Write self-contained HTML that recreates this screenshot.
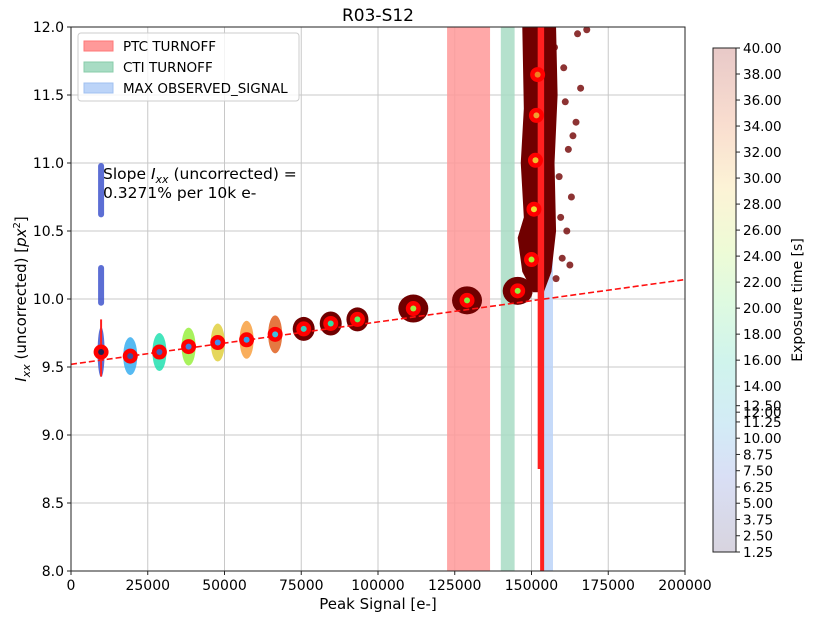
<!DOCTYPE html>
<html><head><meta charset="utf-8"><style>
body{margin:0;background:#fff}
svg{display:block;font-family:"DejaVu Sans","Liberation Sans",sans-serif}
</style></head><body>
<svg id="chart" width="814" height="617" viewBox="0 0 814 617" xmlns="http://www.w3.org/2000/svg">
<defs>
<linearGradient id="cbgrad" x1="0" y1="1" x2="0" y2="0">
<stop offset="0" stop-color="#d8d4df"/>
<stop offset="0.15" stop-color="#d9dff5"/>
<stop offset="0.25" stop-color="#d3ebf6"/>
<stop offset="0.38" stop-color="#d0f4ec"/>
<stop offset="0.5" stop-color="#dffae0"/>
<stop offset="0.6" stop-color="#eefbd6"/>
<stop offset="0.72" stop-color="#fcf3d6"/>
<stop offset="0.85" stop-color="#f9ddcf"/>
<stop offset="1" stop-color="#e8c9c8"/>
</linearGradient>
<clipPath id="plotclip"><rect x="71" y="27" width="614" height="544"/></clipPath>
</defs>
<g id="grid"></g>
<g id="spans" clip-path="url(#plotclip)"></g>
<g id="clouds" clip-path="url(#plotclip)"></g>
<g id="fit" clip-path="url(#plotclip)"></g>
<g id="marks" clip-path="url(#plotclip)"></g>
<rect x="71" y="27" width="614" height="544" fill="none" stroke="#222" stroke-width="1"/>
<g id="axes"></g>
<text x="378" y="21" font-size="17" text-anchor="middle">R03-S12</text>
<text x="378" y="609" font-size="15" text-anchor="middle">Peak Signal [e-]</text>
<text transform="translate(26,299) rotate(-90)" font-size="15" text-anchor="middle"><tspan font-style="italic">I</tspan><tspan font-style="italic" font-size="11" dy="4">xx</tspan><tspan dy="-4"> (uncorrected) [</tspan><tspan font-style="italic">px</tspan><tspan font-size="10" dy="-6">2</tspan><tspan dy="6">]</tspan></text>
<text font-size="15.5" x="103" y="179">Slope <tspan font-style="italic">I</tspan><tspan font-style="italic" font-size="11" dy="4">xx</tspan><tspan dy="-4"> (uncorrected) =</tspan><tspan x="103" dy="19">0.3271% per 10k e-</tspan></text>
<g>
<rect x="78" y="33" width="221" height="68" rx="3" fill="#fff" fill-opacity="0.8" stroke="#ccc"/>
<rect x="84" y="41" width="29" height="10" fill="#ff9999" stroke="#ff7777"/>
<text x="123" y="51" font-size="13.5">PTC TURNOFF</text>
<rect x="84" y="62" width="29" height="10" fill="#a8dcc4" stroke="#88ccaa"/>
<text x="123" y="72" font-size="13.5">CTI TURNOFF</text>
<rect x="84" y="83" width="29" height="10" fill="#bcd4f8" stroke="#a0c0f0"/>
<text x="123" y="93" font-size="13.5">MAX OBSERVED_SIGNAL</text>
</g>
<g id="colorbar">
<rect x="713" y="48" width="23" height="504" fill="url(#cbgrad)" stroke="#222"/>
</g>
<text transform="translate(802,300) rotate(-90)" font-size="14" text-anchor="middle">Exposure time [s]</text>
</svg>
<script>
const xTicks=[0,25000,50000,75000,100000,125000,150000,175000,200000];
const yTicks=[8.0,8.5,9.0,9.5,10.0,10.5,11.0,11.5,12.0];
const cbTicks=[1.25,2.50,3.75,5.00,6.25,7.50,8.75,10.00,11.25,12.00,12.50,14.00,16.00,18.00,20.00,22.00,24.00,26.00,28.00,30.00,32.00,34.00,36.00,38.00,40.00];
const signal=[9800,19300,28800,38300,47800,57200,66500,75800,84600,93300,111500,129000,145500,150000,150800,151300,151600,152000,152300];
const ixx=[9.61,9.58,9.61,9.65,9.68,9.70,9.74,9.78,9.82,9.85,9.93,9.99,10.06,10.29,10.66,11.02,11.35,11.65,12.1];
const cloudColor=["#3f55cc","#38aef0","#22e0b0","#99f040","#e0d040","#f8a040","#e06020","#700000","#700000","#700000","#700000","#700000","#700000","#700000","#700000","#700000","#700000","#700000","#700000"];
const dotColor=["#202050","#4050a0","#4060c0","#4080e0","#4090f0","#30a0f0","#40c0e0","#30d0c0","#30e0a0","#60f060","#a0f040","#80f040","#90f040","#b0f030","#f0e030","#f0c030","#f0a030","#f08020","#f07020"];
const outlierSignal=[158000,160000,161500,163000,159000,162000,164500,166000,160500,157500,165000,168000,162500,159500,161000,163500];
const outlierIxx=[10.15,10.3,10.5,10.75,10.9,11.1,11.3,11.55,11.7,11.85,11.95,11.98,10.25,10.6,11.45,11.2];
const spanPTC=[122500,136500], spanCTI=[140000,144500], spanMAX=[153000,157000];
const fitIntercept=9.52, fitSlopePct=0.3271;
const X=v=>71+v/200000*614, Y=v=>571-(v-8)*136;
const CB=v=>552-(v-1.25)/(38.75)*504;
const NS="http://www.w3.org/2000/svg";
function mk(p,t,a){const e=document.createElementNS(NS,t);for(const k in a)e.setAttribute(k,a[k]);p.appendChild(e);return e;}
const g=id=>document.getElementById(id);
xTicks.forEach(v=>{const l=mk(g('grid'),'line',{x1:X(v),x2:X(v),y1:27,y2:571,stroke:'#c8c8c8'});

const t=mk(g('axes'),'line',{x1:X(v),x2:X(v),y1:571,y2:575,stroke:'#222'});

const s=mk(g('axes'),'text',{x:X(v),y:590,'font-size':14,'text-anchor':'middle'});s.textContent=v;
});
yTicks.forEach(v=>{const l=mk(g('grid'),'line',{x1:71,x2:685,y1:Y(v),y2:Y(v),stroke:'#c8c8c8'});

const t=mk(g('axes'),'line',{x1:67,x2:71,y1:Y(v),y2:Y(v),stroke:'#222'});

const s=mk(g('axes'),'text',{x:64,y:Y(v)+5,'font-size':14,'text-anchor':'end'});s.textContent=v.toFixed(1);
});
cbTicks.forEach(v=>{const t=mk(g('colorbar'),'line',{x1:736,x2:740,y1:CB(v),y2:CB(v),stroke:'#222'});

const s=mk(g('colorbar'),'text',{x:743,y:CB(v)+5,'font-size':13.5});s.textContent=v.toFixed(2);
});
[[spanPTC,'#ff9999','ptc-turnoff-span'],[spanCTI,'#a8dcc4','cti-turnoff-span'],[spanMAX,'#bcd4f8','max-signal-span']].forEach(([s,c,n])=>{
const r=mk(g('spans'),'rect',{x:X(s[0]),y:27,width:X(s[1])-X(s[0]),height:544,fill:c,'fill-opacity':0.85});
});
// clouds
signal.forEach((s,i)=>{const cx=X(s),cy=Y(ixx[i]);let e;
if(i<7){e=mk(g('clouds'),'ellipse',{cx:cx,cy:cy,rx:i==0?3.5:7,ry:i==0?25:19,fill:cloudColor[i],'fill-opacity':0.85});}
else if(i<13){e=mk(g('clouds'),'ellipse',{cx:cx,cy:cy,rx:i<10?11:15,ry:i<10?12:14,fill:cloudColor[i]});}
else return;
});
[[9.95,10.25],[10.6,11.0]].forEach(r=>{const e=mk(g('clouds'),'rect',{x:X(signal[0])-3,y:Y(r[1]),width:6,height:Y(r[0])-Y(r[1]),rx:3,fill:cloudColor[0],'fill-opacity':0.85});
});
// saturated cloud
const sat=mk(g('clouds'),'path',{d:`M${X(150500)} ${Y(10.05)} L${X(147000)} ${Y(10.2)} L${X(145500)} ${Y(10.45)} L${X(147500)} ${Y(10.6)} L${X(146500)} ${Y(11.0)} L${X(147500)} ${Y(11.4)} L${X(147000)} ${Y(12)} L${X(158000)} ${Y(12)} L${X(158500)} ${Y(11.5)} L${X(157500)} ${Y(11.0)} L${X(158000)} ${Y(10.5)} L${X(156500)} ${Y(10.2)} L${X(154000)} ${Y(10.05)} Z`,fill:'#700000'});

outlierSignal.forEach((s,i)=>{const c=mk(g('clouds'),'circle',{cx:X(s),cy:Y(outlierIxx[i]),r:3.5,fill:'#700000','fill-opacity':0.8});
});
// fit line
const f=mk(g('fit'),'line',{x1:X(0),y1:Y(fitIntercept),x2:X(200000),y2:Y(fitIntercept*(1+fitSlopePct/100*20)),stroke:'#ff1010','stroke-width':1.6,'stroke-dasharray':'6,3'});

// error bars
const eb1=mk(g('marks'),'rect',{x:X(152500)-1.5,y:27,width:3,height:Y(8.75)-27,fill:'#ff2020'});

const eb2=mk(g('marks'),'rect',{x:X(153300)-1.5,y:27,width:4,height:544,fill:'#ff2020'});

const eb0=mk(g('marks'),'line',{x1:X(signal[0]),x2:X(signal[0]),y1:Y(9.85),y2:Y(9.43),stroke:'#ff2020','stroke-width':2});

signal.forEach((s,i)=>{const cx=X(s),cy=Y(ixx[i]);
const o=mk(g('marks'),'circle',{cx:cx,cy:cy,r:7.5,fill:'#ff0000'});

const d=mk(g('marks'),'circle',{cx:cx,cy:cy,r:3,fill:dotColor[i]});
});
</script>
</body></html>
